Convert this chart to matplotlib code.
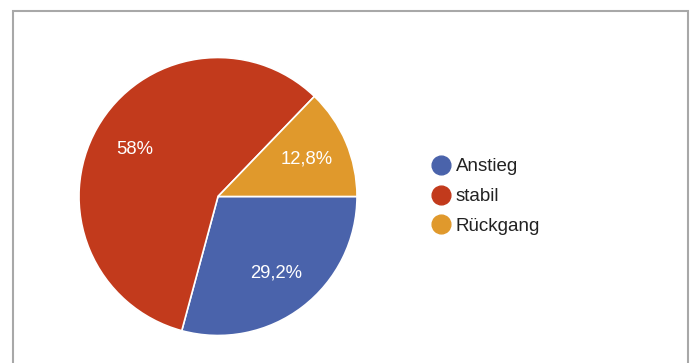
import matplotlib
matplotlib.use("Agg")
import matplotlib.pyplot as plt
from matplotlib.lines import Line2D
from matplotlib.patches import Rectangle

plt.rcParams['font.family'] = ['Liberation Sans', 'DejaVu Sans']

categories = ["Anstieg", "stabil", "Rückgang"]
shares = [29.2, 58.0, 12.8]
colors = ["#4a63ab", "#c23a1c", "#e0992c"]

W, H = 694, 363
fig = plt.figure(figsize=(W / 100, H / 100), dpi=100)

# gray frame around the chart area (bottom edge runs off the image)
fig.patches.append(Rectangle((13 / W, -0.05), (688 - 13) / W, (H - 11) / H + 0.05,
                             transform=fig.transFigure, fill=False,
                             edgecolor="#a8a8a8", linewidth=1.5))

cx, cy, r = 218, 196.5, 139
ax = fig.add_axes([(cx - r) / W, (H - cy - r) / H, 2 * r / W, 2 * r / H])


def fmt(v):
    return f"{v:g}".replace(".", ",") + "%"


wedges, texts, autotexts = ax.pie(
    shares, colors=colors, startangle=0, counterclock=False,
    autopct=lambda p: fmt(round(p, 1)), pctdistance=0.69,
    wedgeprops=dict(edgecolor="white", linewidth=1.2),
    textprops=dict(color="white", fontsize=13.3))
ax.set_xlim(-1, 1)
ax.set_ylim(-1, 1)
for w in wedges:
    w.set_clip_on(False)

handles = [Line2D([], [], marker="o", linestyle="none", markersize=13.5,
                  markerfacecolor=c, markeredgecolor=c) for c in colors]
fig.legend(handles, categories, loc="center left",
           bbox_to_anchor=(422 / W, (H - 196.5) / H), frameon=False,
           fontsize=13.5, labelcolor="#222222", handlelength=1.0,
           handletextpad=0.3, labelspacing=0.68, borderpad=0)

fig.savefig("out.png", dpi=100, facecolor="white")
